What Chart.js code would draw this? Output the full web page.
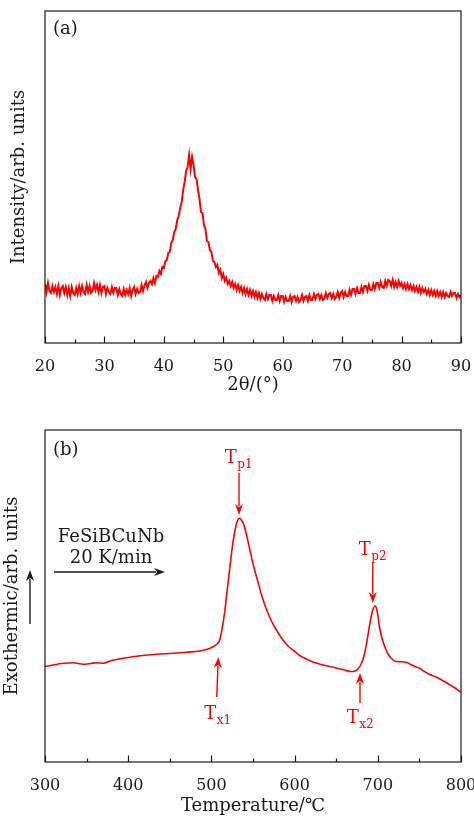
<!DOCTYPE html>
<html>
<head>
<meta charset="utf-8">
<script src="https://cdn.jsdelivr.net/npm/chart.js@4.4.1/dist/chart.umd.min.js"></script>
<style>
  html, body { margin: 0; padding: 0; background: #fff; }
  .panel { position: absolute; left: 0; width: 474px; height: 410px; }
  #top { top: 0; }
  #bottom { top: 410px; }
</style>
</head>
<body>
<div class="panel" id="top"><canvas id="xrd" width="474" height="410"></canvas></div>
<div class="panel" id="bottom"><canvas id="dsc" width="474" height="410"></canvas></div>
<script>
const serif = '"DejaVu Serif", "Liberation Serif", serif'
const ink = '#1a1a1a'

// (a) XRD pattern, one reading every 0.25 degree from 20 to 90
const angleStart = 20
const angleStep = 0.25
const angleTicks = [20, 30, 40, 50, 60, 70, 80, 90]
const intensity = [
    59, 51, 60, 52, 50, 57, 51, 56, 49, 57, 48, 55, 57, 50, 56, 48,
    55, 47, 56, 50, 48, 55, 49, 57, 50, 57, 51, 49, 58, 51, 57, 50,
    52, 60, 53, 58, 51, 58, 50, 56, 57, 49, 55, 51, 49, 56, 50, 55,
    55, 48, 54, 49, 47, 54, 48, 53, 49, 55, 47, 53, 56, 49, 54, 50,
    51, 58, 52, 58, 61, 55, 60, 62, 59, 65, 60, 67, 66, 72, 69, 76,
    75, 82, 83, 90, 91, 100, 103, 111, 114, 123, 127, 135, 141, 153, 161, 172,
    176, 188, 174, 186, 178, 166, 164, 153, 144, 131, 130, 118, 114, 102, 101, 93,
    91, 82, 81, 76, 78, 70, 73, 65, 69, 62, 65, 59, 62, 57, 61, 55,
    59, 53, 58, 52, 56, 50, 55, 49, 54, 48, 53, 47, 52, 46, 51, 45,
    50, 44, 49, 45, 43, 49, 44, 48, 48, 42, 47, 43, 43, 48, 42, 47,
    47, 41, 46, 42, 42, 47, 41, 46, 47, 42, 46, 41, 43, 48, 42, 46,
    47, 42, 48, 43, 43, 49, 44, 48, 49, 44, 48, 43, 44, 50, 45, 49,
    50, 45, 49, 44, 46, 51, 45, 50, 52, 46, 51, 47, 47, 53, 48, 54,
    54, 49, 55, 50, 50, 56, 51, 57, 57, 52, 58, 53, 53, 59, 54, 60,
    60, 55, 61, 56, 55, 62, 57, 63, 62, 57, 63, 56, 61, 56, 62, 57,
    60, 55, 59, 54, 59, 54, 58, 53, 57, 52, 56, 51, 56, 50, 55, 51,
    54, 49, 53, 48, 53, 48, 52, 47, 52, 47, 51, 46, 51, 46, 50, 47,
    46, 51, 47, 50, 50, 45, 49, 46, 48
]

// (b) DSC trace
const tempTicks = [300, 400, 500, 600, 700, 800]
const temperature = [
    300, 310, 320, 334, 346, 355, 362, 370, 380, 394, 414, 434, 454, 470, 486, 496,
    502, 506, 510, 513, 516, 519, 522, 525, 528, 531, 533.5, 536, 539, 542, 546, 551,
    556, 561, 566, 571, 576, 581, 586, 592, 600, 606, 614, 622, 632, 642, 650, 660,
    667, 672, 676, 680, 684, 688, 691, 694, 696.6, 699, 702, 705, 709, 713, 717, 722,
    728, 735, 742, 750, 760, 770, 780, 790, 800
]
const heatFlow = [
    95.5, 97, 98.5, 99.3, 97.7, 98.5, 99.3, 98.7, 101.5, 103.7, 106.3, 107.8, 108.7, 109.8, 111, 113,
    115.3, 117.5, 122, 134, 150, 172, 193, 214, 230, 240.5, 243.7, 242, 237, 228, 213, 195,
    180, 165, 153, 143, 135, 128, 122, 116, 110.7, 106.5, 103, 100, 97.5, 95.5, 94, 92,
    90.5, 90.8, 93, 98, 108, 126, 141, 152, 156, 152, 135, 124, 114, 107, 103, 100.5,
    100.3, 99.5, 96.5, 93.7, 88.5, 85, 80.5, 75.5, 69.7
]

// labelled arrows on the DSC trace (temperature / height units)
const dscMarks = [
    { name: 'T', sub: 'p1', t: 532.6, h: 299, from: [533.2, 289], to: [533.2, 247] },
    { name: 'T', sub: 'p2', t: 693.6, h: 207, from: [693.9, 199], to: [693.9, 159] },
    { name: 'T', sub: 'x1', t: 507.3, h: 43, from: [506.4, 65], to: [508.3, 105] },
    { name: 'T', sub: 'x2', t: 678.6, h: 39, from: [678.6, 59], to: [678.6, 89] }
]

const xrdPoints = intensity.map((v, i) => ({ x: angleStart + i * angleStep, y: v }))
const dscPoints = temperature.map((t, i) => ({ x: t, y: heatFlow[i] }))

function arrow(ctx, x0, y0, x1, y1, color) {
    const ang = Math.atan2(y1 - y0, x1 - x0)
    const len = 11
    const half = 4
    ctx.strokeStyle = color
    ctx.fillStyle = color
    ctx.lineWidth = 1.4
    ctx.beginPath()
    ctx.moveTo(x0, y0)
    ctx.lineTo(x1 - Math.cos(ang) * len * 0.8, y1 - Math.sin(ang) * len * 0.8)
    ctx.stroke()
    ctx.beginPath()
    ctx.moveTo(x1, y1)
    ctx.lineTo(x1 - Math.cos(ang) * len - Math.sin(ang) * half, y1 - Math.sin(ang) * len + Math.cos(ang) * half)
    ctx.lineTo(x1 - Math.cos(ang) * len * 0.7, y1 - Math.sin(ang) * len * 0.7)
    ctx.lineTo(x1 - Math.cos(ang) * len + Math.sin(ang) * half, y1 - Math.sin(ang) * len - Math.cos(ang) * half)
    ctx.closePath()
    ctx.fill()
}

const framePlugin = {
    id: 'frame',
    afterDatasetsDraw(chart, args, opts) {
        const { ctx, chartArea: a, scales: { x } } = chart
        ctx.save()
        ctx.strokeStyle = ink
        ctx.lineWidth = 1.2
        ctx.strokeRect(a.left, a.top, a.right - a.left, a.bottom - a.top)
        ctx.beginPath()
        for (let v = x.min; v <= x.max + 1e-9; v += opts.minor) {
            const px = Math.round(x.getPixelForValue(v)) + 0.5
            const major = Math.abs((v - x.min) % opts.major) < 1e-6
            ctx.moveTo(px, a.bottom)
            ctx.lineTo(px, a.bottom - (major ? 6.5 : 3.5))
        }
        ctx.stroke()
        ctx.fillStyle = ink
        ctx.font = '18px ' + serif
        ctx.textBaseline = 'middle'
        ctx.textAlign = 'left'
        ctx.fillText(opts.tag, a.left + 8, a.top + opts.tagY)
        ctx.restore()
    }
}

const dscNotes = {
    id: 'dscNotes',
    afterDatasetsDraw(chart) {
        const { ctx, chartArea: a, scales: { x, y } } = chart
        ctx.save()
        dscMarks.forEach(m => {
            arrow(ctx, x.getPixelForValue(m.from[0]), y.getPixelForValue(m.from[1]),
                x.getPixelForValue(m.to[0]), y.getPixelForValue(m.to[1]), 'red')
            ctx.font = '18px ' + serif
            const wT = ctx.measureText(m.name).width
            ctx.font = '12px ' + serif
            const wS = ctx.measureText(m.sub).width
            const left = x.getPixelForValue(m.t) - (wT + wS) / 2
            const base = y.getPixelForValue(m.h)
            ctx.fillStyle = 'red'
            ctx.textAlign = 'left'
            ctx.textBaseline = 'alphabetic'
            ctx.font = '18px ' + serif
            ctx.fillText(m.name, left, base)
            ctx.font = '12px ' + serif
            ctx.fillText(m.sub, left + wT + 0.5, base + 5)
        })

        ctx.fillStyle = ink
        ctx.textAlign = 'center'
        ctx.textBaseline = 'middle'
        ctx.font = '18px ' + serif
        ctx.fillText('FeSiBCuNb', a.left + 66, a.top + 107)
        ctx.fillText('20 K/min', a.left + 66, a.top + 128)
        arrow(ctx, a.left + 9, a.top + 142, a.left + 120, a.top + 142, ink)
        arrow(ctx, 30, a.top + 194, 30, a.top + 140, ink)
        ctx.restore()
    }
}

function makeChart(id, points, ticks, opts) {
    return new Chart(document.getElementById(id), {
        type: 'line',
        data: {
            datasets: [{
                data: points,
                borderColor: 'red',
                borderWidth: opts.lineWidth,
                pointRadius: 0,
                tension: opts.tension,
                cubicInterpolationMode: opts.mode,
                fill: false
            }]
        },
        options: {
            responsive: false,
            animation: false,
            events: [],
            layout: { padding: { top: opts.top, right: 13, left: 0, bottom: 0 } },
            plugins: {
                legend: { display: false },
                tooltip: { enabled: false },
                frame: { major: opts.major, minor: opts.minor, tag: opts.tag, tagY: opts.tagY }
            },
            scales: {
                x: {
                    type: 'linear',
                    min: ticks[0],
                    max: ticks[ticks.length - 1],
                    grid: { display: false },
                    border: { display: false },
                    afterBuildTicks: s => { s.ticks = ticks.map(v => ({ value: v })) },
                    afterFit: s => { s.height = opts.xHeight; s.paddingLeft = 0; s.paddingRight = 0 },
                    ticks: { autoSkip: false, maxRotation: 0, padding: 6, color: ink, font: { family: serif, size: 16 } },
                    title: { display: true, text: opts.xTitle, color: ink, padding: { top: 0, bottom: opts.xTitlePad }, font: { family: serif, size: 18 } }
                },
                y: {
                    min: 0,
                    max: 332,
                    grid: { display: false },
                    border: { display: false },
                    ticks: { display: false },
                    afterFit: s => { s.width = 45; s.paddingTop = 0; s.paddingBottom = 0 },
                    title: { display: true, text: opts.yTitle, color: ink, padding: { top: opts.yTitlePad, bottom: 0 }, font: { family: serif, size: 18 } }
                }
            }
        },
        plugins: opts.plugins
    })
}

makeChart('xrd', xrdPoints, angleTicks, {
    lineWidth: 2, tension: 0, mode: 'default', top: 11, xHeight: 67, major: 10, minor: 5,
    tag: '(a)', tagY: 18.5, xTitle: '2θ/(°)', xTitlePad: 14, yTitle: 'Intensity/arb. units', yTitlePad: 9,
    plugins: [framePlugin]
})

makeChart('dsc', dscPoints, tempTicks, {
    lineWidth: 1.6, tension: 0.4, mode: 'monotone', top: 20, xHeight: 58, major: 100, minor: 50,
    tag: '(b)', tagY: 20, xTitle: 'Temperature/℃', xTitlePad: 3, yTitle: 'Exothermic/arb. units', yTitlePad: 2,
    plugins: [framePlugin, dscNotes]
})
</script>
</body>
</html>
